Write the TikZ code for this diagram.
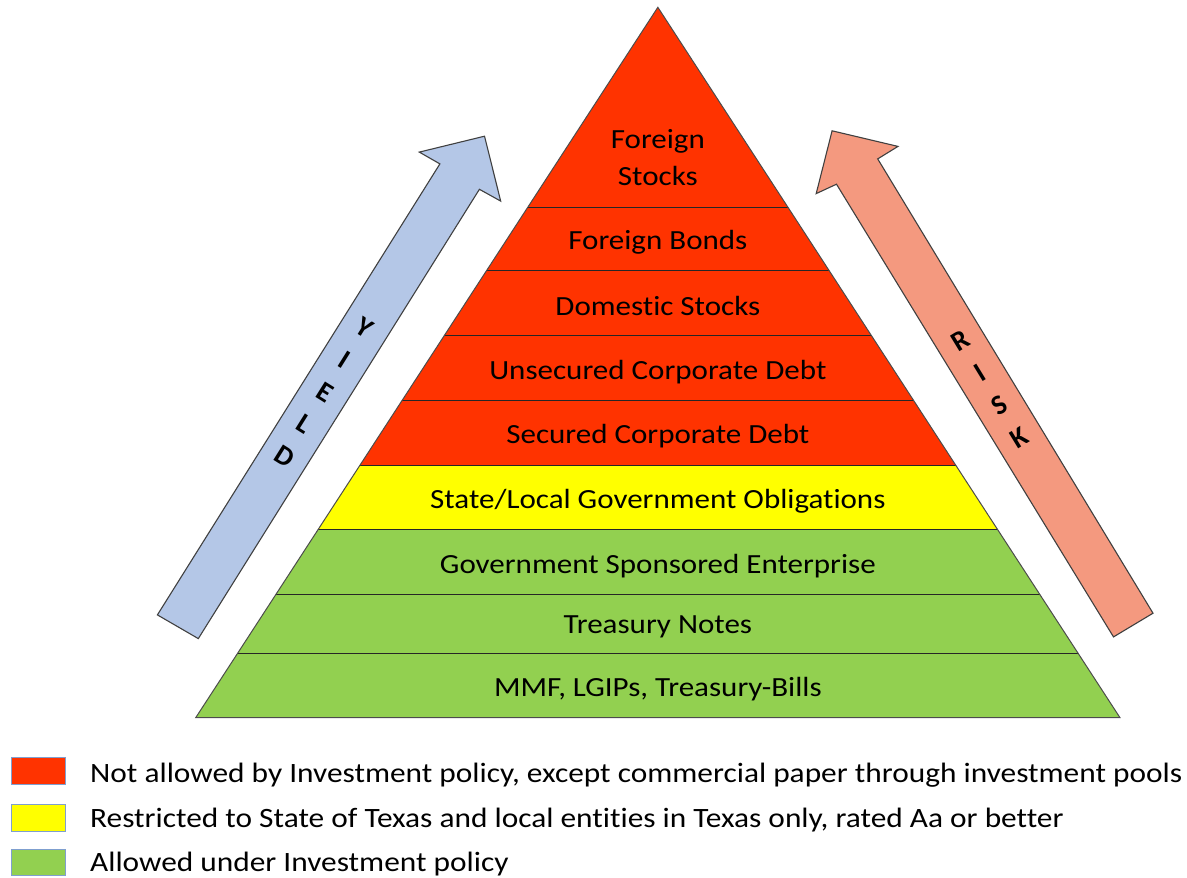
\documentclass[tikz,border=0pt]{standalone}
\usepackage{fontspec}
\setmainfont{Carlito}[FakeStretch=1.12, Ligatures={NoCommon,NoRequired,NoContextual}]
\newfontfamily\arrowfont{Carlito}
\usetikzlibrary{calc}
\definecolor{pyrred}{HTML}{FF3300}
\definecolor{pyryellow}{HTML}{FFFF00}
\definecolor{pyrgreen}{HTML}{92D050}
\definecolor{yieldblue}{HTML}{B4C7E7}
\definecolor{risksalmon}{HTML}{F4997F}
\definecolor{legedge}{HTML}{7F9FCF}
\begin{document}
\begin{tikzpicture}[x=1pt,y=-1pt,
  bandtext/.style={font=\fontsize{27.7}{37.4}\selectfont, align=center, inner sep=0pt, anchor=base},
  legtext/.style={font=\fontsize{28}{34}\selectfont, inner sep=0pt, anchor=base west},
  legbox/.style={draw=legedge, line width=1pt},
  arrowshape/.style={draw=black!75, line width=1.1pt, line join=miter},
  arrowletter/.style={font=\arrowfont\bfseries\fontsize{28}{32}\selectfont, inner sep=0pt},
  sepline/.style={draw=black!85, line width=1.3pt},
  pyroutline/.style={draw=black!70, line width=1pt, line join=miter}]
\useasboundingbox (0,0) rectangle (1187,878);

% ---------- pyramid ----------
\coordinate (apex) at (657.85,7.3);
\coordinate (bl) at (195.7,717.7);
\coordinate (br) at (1120,717.7);
\begin{scope}
  \clip (apex) -- (bl) -- (br) -- cycle;
  \fill[pyrred] (180,0) rectangle (1140,465.3);
  \fill[pyryellow] (180,465.3) rectangle (1140,529.8);
  \fill[pyrgreen] (180,529.8) rectangle (1140,725);
  \foreach \yy in {207.3,270.3,335.2,400.4,465.3,529.8,594.7,653.3}
    \draw[sepline] (180,\yy) -- (1140,\yy);
\end{scope}
\draw[pyroutline] (apex) -- (bl) -- (br) -- cycle;

\node[bandtext] (fs) at (657.85,185.7) {Foreign\\Stocks};
\node[bandtext] (fb) at (657.85,249.3) {Foreign Bonds};
\node[bandtext] (ds) at (657.85,315) {Domestic Stocks};
\node[bandtext] (ucd) at (657.85,379.5) {Unsecured Corporate Debt};
\node[bandtext] (scd) at (657.85,443.5) {Secured Corporate Debt};
\node[bandtext] (slg) at (657.85,508.3) {State/Local Government Obligations};
\node[bandtext] (gse) at (657.85,573.3) {Government Sponsored Enterprise};
\node[bandtext] (tn) at (657.85,633.5) {Treasury Notes};
\node[bandtext] (mmf) at (657.85,696.7) {MMF, LGIPs, Treasury-Bills};

% ---------- YIELD arrow ----------
\draw[arrowshape, fill=yieldblue]
  (157.4,614.9) -- (439.9,163.9) -- (419.3,152.1) -- (484.5,136.2)
  -- (500.7,201.1) -- (479.4,189.3) -- (198.3,638.6) -- cycle;
\node[arrowletter, rotate=-32] (y1) at (364.9,327.6) {Y};
\node[arrowletter, rotate=-32] (y2) at (344.7,359.8) {I};
\node[arrowletter, rotate=-32] (y3) at (324.6,392.1) {E};
\node[arrowletter, rotate=-32] (y4) at (304.5,424.3) {L};
\node[arrowletter, rotate=-32] (y5) at (284.3,456.5) {D};

% ---------- RISK arrow ----------
\draw[arrowshape, fill=risksalmon]
  (1153,613.2) -- (877.7,158.9) -- (898,146.4) -- (832.1,130.8)
  -- (816.2,193.6) -- (836.5,184.2) -- (1113.5,636.9) -- cycle;
\node[arrowletter, rotate=31.4] (r1) at (960,340.7) {R};
\node[arrowletter, rotate=31.4] (r2) at (979.8,373.2) {I};
\node[arrowletter, rotate=31.4] (r3) at (999.5,405.6) {S};
\node[arrowletter, rotate=31.4] (r4) at (1019.3,438.1) {K};

% ---------- legend ----------
\draw[legbox, fill=pyrred] (11,757.3) rectangle (65,784);
\draw[legbox, fill=pyryellow] (11,804.3) rectangle (65,831);
\draw[legbox, fill=pyrgreen] (11,849) rectangle (65,875.7);
\node[legtext] (l1) at (90,782.7) {Not allowed by Investment policy, except commercial paper through investment pools};
\node[legtext] (l2) at (90,827.3) {Restricted to State of Texas and local entities in Texas only, rated Aa or better};
\node[legtext] (l3) at (90,871.7) {Allowed under Investment policy};
\end{tikzpicture}
\end{document}
